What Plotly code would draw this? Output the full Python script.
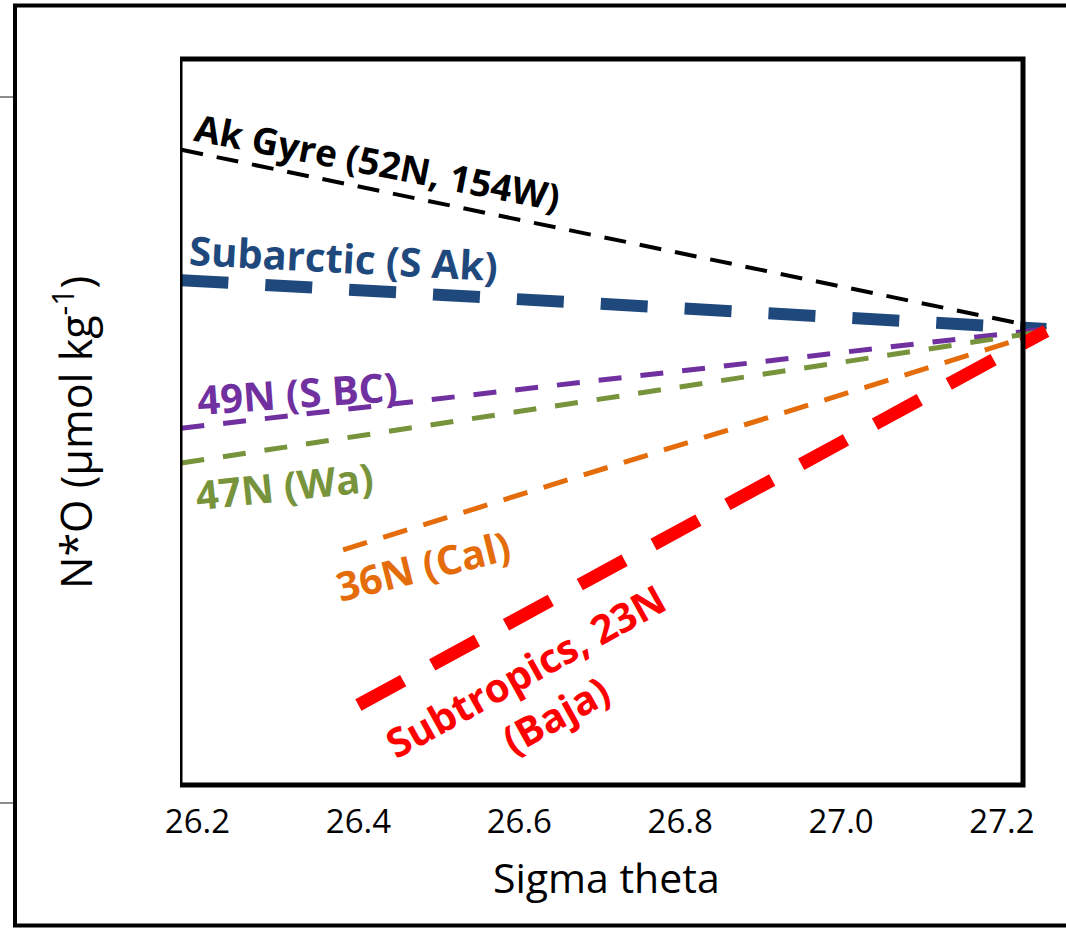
import plotly.graph_objects as go

# ---- data (sigma-theta vs N*O, arbitrary units) ----
series_names = ["Ak Gyre (52N, 154W)", "Subarctic (S Ak)", "49N (S BC)",
                "47N (Wa)", "36N (Cal)", "Subtropics, 23N (Baja)"]
x_start = [26.18, 26.18, 26.18, 26.18, 26.381, 26.40]
x_end = [27.255, 27.255, 27.255, 27.255, 27.255, 27.255]
y_start = [4.48, 1.22, -2.48, -3.35, -5.52, -9.40]
y_end = [0.0, 0.0, 0.0, -0.05, -0.05, -0.05]
tick_vals = [26.2, 26.4, 26.6, 26.8, 27.0, 27.2]
tick_text = ["26.2", "26.4", "26.6", "26.8", "27.0", "27.2"]

colors = ["#000000", "#1F497D", "#7030A0", "#77933C", "#E46C0A", "#FF0000"]
widths = [4, 12, 5, 5, 5, 13]
dashes = ["22px,14px", "47px,37px", "23px,19px", "23px,19px", "25px,17px", "51px,33px"]

W, H = 1066, 928
L, R, T, B = 180, 4, 59, 143
pw, ph = W - L - R, H - T - B
px_per_unit = 804.5
x0 = 26.2 - (197.5 - L) / px_per_unit
x1 = 26.2 + (W - R - 197.5) / px_per_unit
box_right = 26.2 + (1023 - 197.5) / px_per_unit
y_top, y_bot = 6.75, -11.4


def pxp(px, py):
    return (px - L) / pw, 1 - (py - T) / ph


fig = go.Figure()
for i in range(len(series_names)):
    fig.add_trace(go.Scatter(
        x=[x_start[i], x_end[i]], y=[y_start[i], y_end[i]], mode="lines",
        line=dict(color=colors[i], width=widths[i], dash=dashes[i]),
        name=series_names[i], showlegend=False, hoverinfo="skip"))

# inner plot box
fig.add_shape(type="rect", xref="x", yref="paper", x0=x0, x1=box_right, y0=0, y1=1,
              line=dict(color="black", width=5), layer="above")
# outer frame
fig.add_shape(type="rect", xref="paper", yref="paper",
              x0=(15 - L) / pw, x1=(1080 - L) / pw,
              y0=1 - (925.5 - T) / ph, y1=1 - (5.5 - T) / ph,
              line=dict(color="black", width=4), layer="above")
# small grey stubs at far left
for py in (97, 803):
    fig.add_shape(type="line", xref="paper", yref="paper",
                  x0=(0 - L) / pw, x1=(13 - L) / pw,
                  y0=1 - (py - T) / ph, y1=1 - (py - T) / ph,
                  line=dict(color="#8c8c8c", width=2))

labels = [
    ("Ak Gyre (52N, 154W)", 377, 162, 11, colors[0], 37),
    ("Subarctic (S Ak)", 343, 258, 3, colors[1], 40),
    ("49N (S BC)", 297, 392, -4, colors[2], 40),
    ("47N (Wa)", 284, 485, -6, colors[3], 40),
    ("36N (Cal)", 423, 565, -14, colors[4], 40),
    ("Subtropics, 23N", 525, 670, -29, colors[5], 40),
    ("(Baja)", 555, 714, -29, colors[5], 40),
]
for txt, px, py, ang, col, fs in labels:
    ax, ay = pxp(px, py)
    fig.add_annotation(text="<b>" + txt + "</b>", x=ax, y=ay, xref="paper", yref="paper",
                       showarrow=False, textangle=ang, xanchor="center", yanchor="middle",
                       font=dict(family="Open Sans", size=fs, color=col))

ax, ay = pxp(606, 877)
fig.add_annotation(text="Sigma theta", x=ax, y=ay, xref="paper", yref="paper",
                   showarrow=False, xanchor="center", yanchor="middle",
                   font=dict(family="Open Sans", size=41, color="black"))
ax, ay = pxp(73, 433)
fig.add_annotation(text="N*O (µmol kg<sup>-1</sup>)", x=ax, y=ay, xref="paper", yref="paper",
                   showarrow=False, textangle=-90, xanchor="center", yanchor="middle",
                   font=dict(family="Open Sans", size=43, color="black"))

fig.update_layout(
    width=W, height=H, margin=dict(l=L, r=R, t=T, b=B),
    paper_bgcolor="white", plot_bgcolor="white",
    xaxis=dict(range=[x0, x1], tickvals=tick_vals, ticktext=tick_text, showgrid=False,
               zeroline=False, showline=False, ticks="", ticklabelstandoff=14,
               tickfont=dict(family="Open Sans", size=33, color="black")),
    yaxis=dict(range=[y_bot, y_top], showgrid=False, zeroline=False, showline=False,
               showticklabels=False, ticks=""),
)
fig.write_html("out.html", config={"displayModeBar": False},
               post_script="document.body.style.margin='0';document.body.style.overflow='hidden';")
